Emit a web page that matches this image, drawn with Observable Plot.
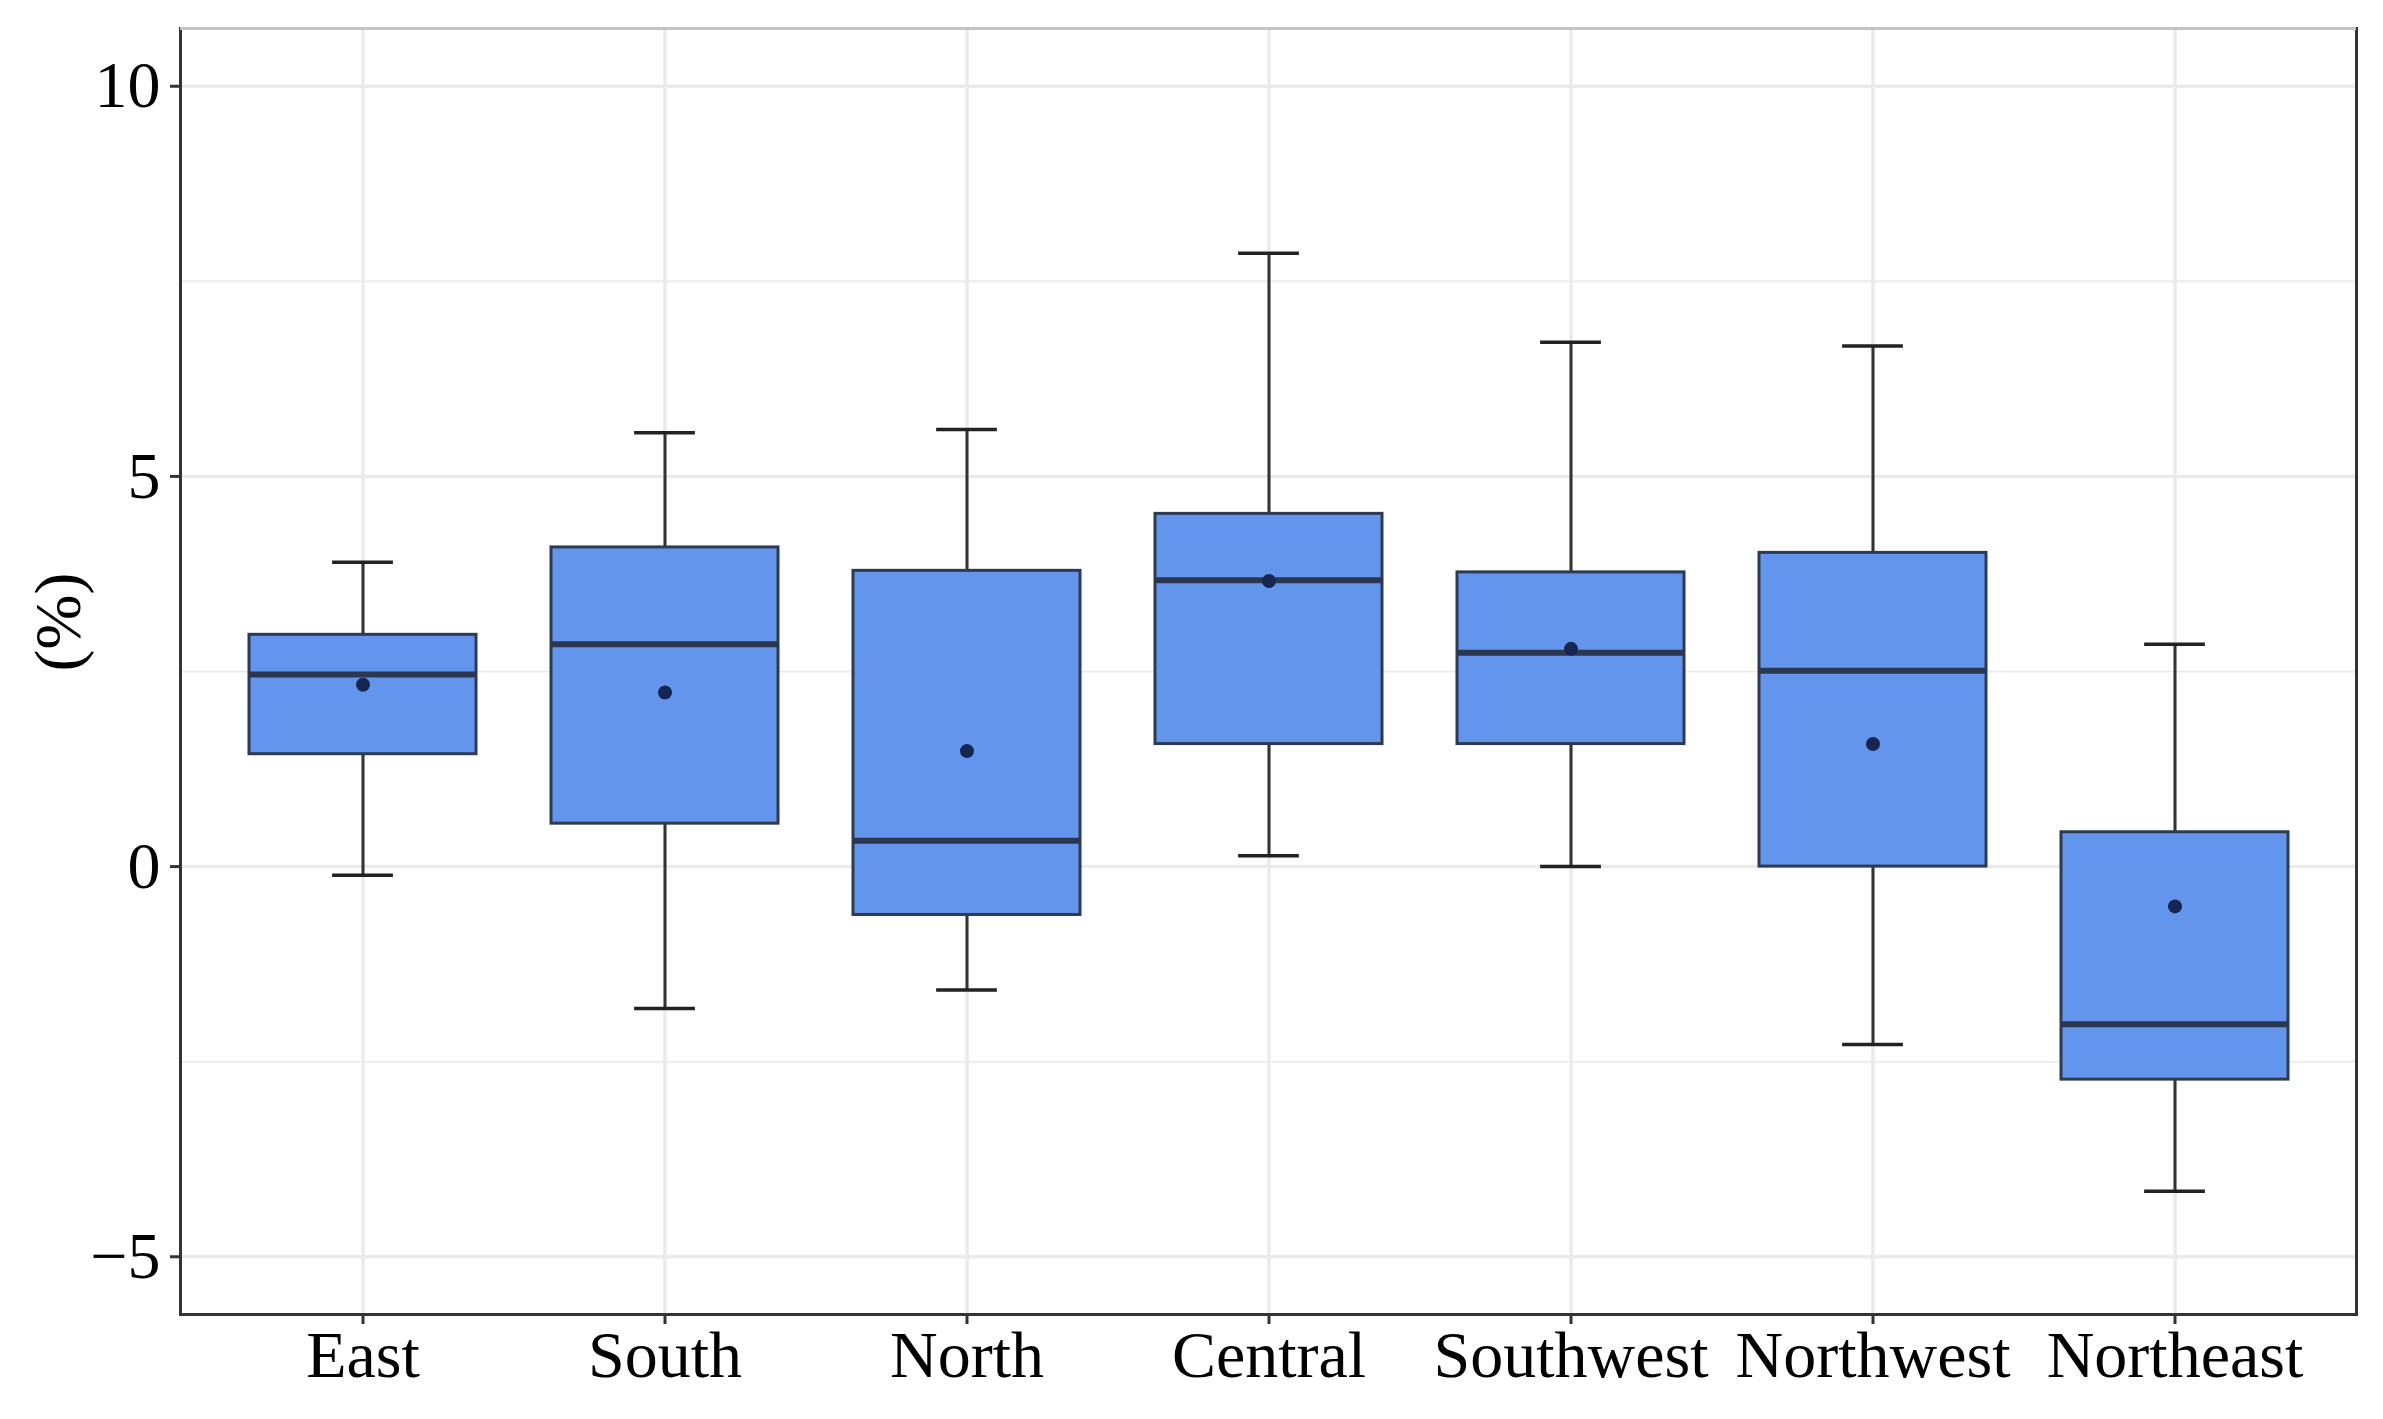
<!DOCTYPE html>
<html>
<head>
<meta charset="utf-8">
<script src="https://cdn.jsdelivr.net/npm/d3@7"></script>
<script src="https://cdn.jsdelivr.net/npm/@observablehq/plot@0.6"></script>
<style>
  html, body { margin: 0; padding: 0; background: #fff; }
</style>
</head>
<body>
<div id="chart"></div>
<script>
const regions = ["East", "South", "North", "Central", "Southwest", "Northwest", "Northeast"];
const whiskerLow = [-0.11, -1.82, -1.58, 0.14, 0.0, -2.28, -4.16];
const q1 = [1.44, 0.55, -0.62, 1.57, 1.57, 0.0, -2.73];
const median = [2.46, 2.85, 0.33, 3.67, 2.74, 2.51, -2.02];
const q3 = [2.97, 4.09, 3.79, 4.52, 3.77, 4.02, 0.44];
const whiskerHigh = [3.90, 5.56, 5.60, 7.86, 6.72, 6.67, 2.85];
const mean = [2.33, 2.23, 1.48, 3.66, 2.79, 1.57, -0.51];
const yTicks = [-5, 0, 5, 10];
const yMinorTicks = [-2.5, 2.5, 7.5];
const yLabel = "(%)";

const data = regions.map((r, i) => ({
  region: r, lo: whiskerLow[i], q1: q1[i], med: median[i], q3: q3[i], hi: whiskerHigh[i], mean: mean[i]
}));

const W = 2383, H = 1419;
const mL = 180, mR = 27, mT = 28, mB = 105;
const step = (W - mL - mR) / (regions.length - 0.25 + 2 * 0.225);
const capInset = step * (0.75 - 0.2) / 2;
const fmt = d => d < 0 ? "\u2212" + Math.abs(d) : String(d);
const font = "'Liberation Serif', 'Times New Roman', serif";

const chart = Plot.plot({
  width: W, height: H,
  marginLeft: mL, marginRight: mR, marginTop: mT, marginBottom: mB,
  style: { fontFamily: font, fontSize: "66px", background: "white", color: "black" },
  x: { domain: regions, paddingInner: 0.25, paddingOuter: 0.225, label: null },
  y: { domain: [-5.74, 10.74], label: null },
  marks: [
    Plot.ruleY(yMinorTicks, { stroke: "#ececec", strokeWidth: 2 }),
    Plot.ruleY(yTicks, { stroke: "#ebebeb", strokeWidth: 3.5 }),
    Plot.ruleX(regions, { x: d => d, stroke: "#ebebeb", strokeWidth: 3.5 }),
    Plot.ruleX(data, { x: "region", y1: "lo", y2: "hi", stroke: "#333", strokeWidth: 3 }),
    Plot.tickY(data, { x: "region", y: "hi", insetLeft: capInset, insetRight: capInset, stroke: "#222", strokeWidth: 3.5 }),
    Plot.tickY(data, { x: "region", y: "lo", insetLeft: capInset, insetRight: capInset, stroke: "#222", strokeWidth: 3.5 }),
    Plot.barY(data, { x: "region", y1: "q1", y2: "q3", fill: "#6495ED", stroke: "#2d3a52", strokeWidth: 3 }),
    Plot.tickY(data, { x: "region", y: "med", stroke: "#2b3750", strokeWidth: 6 }),
    Plot.dot(data, { x: "region", y: "mean", r: 7, fill: "#162650", stroke: "none" }),
    Plot.frame({ stroke: "#333", strokeWidth: 3 }),
    Plot.ruleY([10.74], { stroke: "#c4c4c4", strokeWidth: 3 }),
    Plot.axisY(yTicks, { tickFormat: fmt, tickSize: 10, tickPadding: 10, stroke: "#333", strokeWidth: 3, fontSize: 66, fill: "black", label: null }),
    Plot.axisX({ tickSize: 10, tickPadding: 6, stroke: "#333", strokeWidth: 3, fontSize: 66, fill: "black", label: null }),
    Plot.text([yLabel], { frameAnchor: "left", dx: -122, rotate: -90, fontSize: 66, fill: "black", text: d => d })
  ]
});
document.getElementById("chart").appendChild(chart);
</script>
</body>
</html>
